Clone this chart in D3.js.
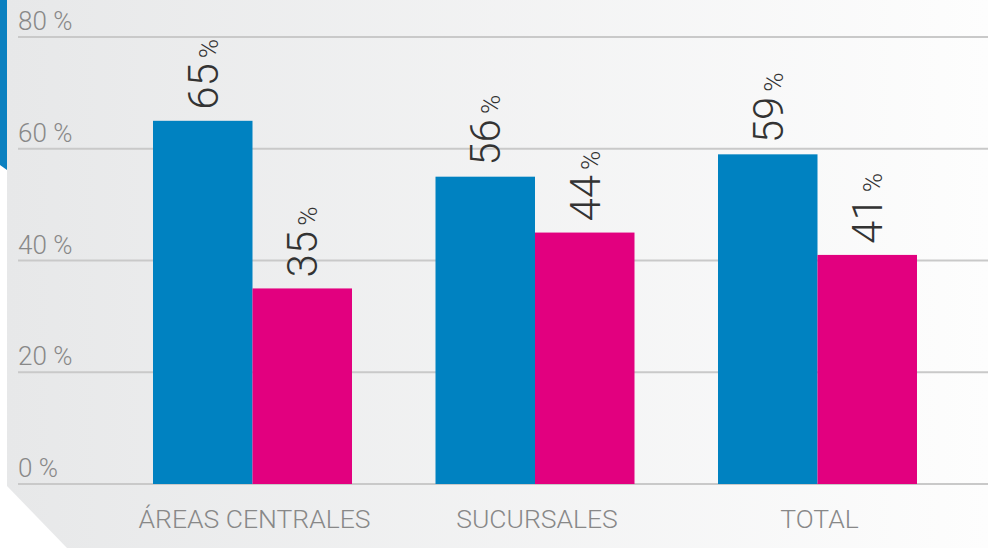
<!DOCTYPE html>
<meta charset="utf-8">
<head>
    <script type="text/javascript" src="https://cdn.jsdelivr.net/npm/d3@7"></script>
    <style>
        body { margin: 0; background: #fff; }
        svg { display: block; font-family: Roboto, "Open Sans", sans-serif; }
    </style>
</head>
<body>
<div id="chart"></div>
<script>
    // chart data (bar heights as drawn, labels as printed)
    var categories = ["ÁREAS CENTRALES", "SUCURSALES", "TOTAL"];
    var seriesNames = ["blue", "pink"];
    var blueValues = [65, 55, 59];
    var pinkValues = [35, 45, 41];
    var blueLabels = ["65", "56", "59"];
    var pinkLabels = ["35", "44", "41"];
    var yTicks = [0, 20, 40, 60, 80];

    var width = 988, height = 548;
    var colors = {blue: "#0082c1", pink: "#e2007f"};

    var svg = d3.select("#chart").append("svg")
        .attr("width", width)
        .attr("height", height);

    // background gradient + shape
    var defs = svg.append("defs");
    var grad = defs.append("linearGradient").attr("id", "bg")
        .attr("x1", "0%").attr("x2", "100%").attr("y1", "0%").attr("y2", "0%");
    grad.append("stop").attr("offset", "0%").attr("stop-color", "#e7e8e9");
    grad.append("stop").attr("offset", "100%").attr("stop-color", "#fdfdfd");

    svg.append("polygon")
        .attr("points", "7,0 988,0 988,548 67,548 7,486")
        .attr("fill", "url(#bg)");
    svg.append("polygon")
        .attr("points", "0,0 7,0 7,170 0,165")
        .attr("fill", "#0a80c0");

    var y = d3.scaleLinear().domain([0, 80]).range([484, 37]);

    var x = d3.scaleBand()
        .domain(categories)
        .range([111.25, 958.75])
        .paddingInner(0.2956)
        .paddingOuter(0.1478);

    var xs = d3.scaleBand().domain(seriesNames).range([0, x.bandwidth()]);

    // gridlines
    svg.append("g").selectAll("line")
        .data(yTicks)
        .enter().append("line")
        .attr("x1", 18).attr("x2", width)
        .attr("y1", function(d) { return y(d); })
        .attr("y2", function(d) { return y(d); })
        .attr("stroke", "#c9c9c9")
        .attr("stroke-width", 2);

    // tick labels
    svg.append("g").selectAll("text")
        .data(yTicks)
        .enter().append("text")
        .attr("x", 18)
        .attr("y", function(d) { return y(d) - 7; })
        .attr("fill", "#888")
        .attr("font-size", 26)
        .attr("font-weight", 300)
        .text(function(d) { return d + " %"; });

    var rows = [];
    categories.forEach(function(c, i) {
        rows.push({cat: c, s: "blue", v: blueValues[i], t: blueLabels[i]});
        rows.push({cat: c, s: "pink", v: pinkValues[i], t: pinkLabels[i]});
    });

    // bars
    svg.append("g").selectAll("rect")
        .data(rows)
        .enter().append("rect")
        .attr("x", function(d) { return x(d.cat) + xs(d.s); })
        .attr("y", function(d) { return y(d.v); })
        .attr("width", xs.bandwidth())
        .attr("height", function(d) { return y(0) - y(d.v); })
        .attr("fill", function(d) { return colors[d.s]; });

    // value labels (rotated)
    var lab = svg.append("g").selectAll("text")
        .data(rows)
        .enter().append("text")
        .attr("transform", function(d) {
            var cx = x(d.cat) + xs(d.s) + xs.bandwidth() / 2 + 15;
            return "translate(" + cx + "," + (y(d.v) - 11) + ") rotate(-90)";
        })
        .attr("fill", "#333")
        .attr("font-weight", 300);
    lab.append("tspan").attr("font-size", 42).text(function(d) { return d.t; });
    lab.append("tspan").attr("font-size", 26).attr("dx", 5).text("%");

    // category labels
    svg.append("g").selectAll("text")
        .data(categories)
        .enter().append("text")
        .attr("x", function(d) { return x(d) + x.bandwidth() / 2 + 2; })
        .attr("y", 528)
        .attr("text-anchor", "middle")
        .attr("fill", "#888")
        .attr("font-size", 26.5)
        .attr("font-weight", 300)
        .text(function(d) { return d; });
</script>
</body>
